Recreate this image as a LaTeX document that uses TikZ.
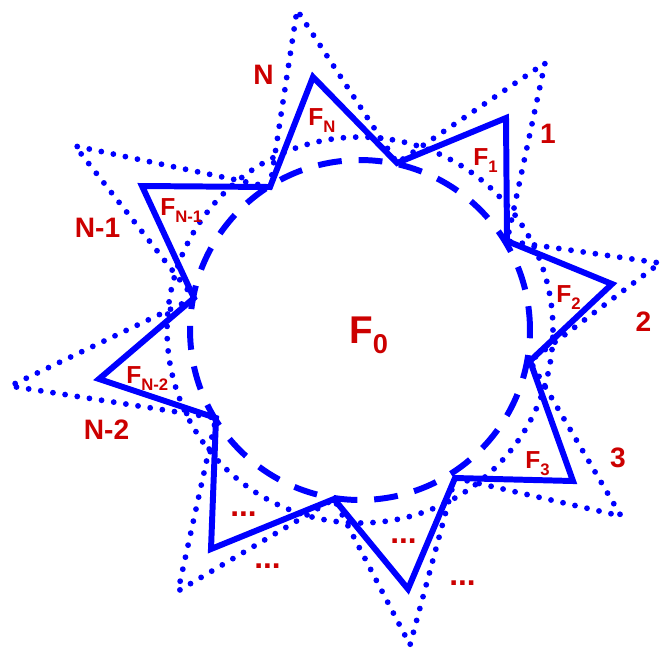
\documentclass[tikz,border=0pt]{standalone}
\usepackage{fontspec}
\setmainfont{Liberation Sans}
\usepackage{xcolor}
\definecolor{sblue}{HTML}{0000FF}
\definecolor{lred}{HTML}{CC0000}
\usepackage{tikz}
\usetikzlibrary{positioning}
\newcommand{\lsub}[2][4.5pt]{\raisebox{-#1}{\fontsize{9.5}{9.5}\selectfont #2}}
\tikzset{
  solid star/.style={sblue,line width=3.4pt},
  dotted star/.style={sblue,line width=3.3pt,line cap=round,dash pattern=on 0pt off 7pt},
  dashed ring/.style={sblue,line width=3.4pt,dash pattern=on 13.6pt off 9.6pt},
  spike lbl/.style={lred,inner sep=0,font=\bfseries\fontsize{16}{16}\selectfont},
  face lbl/.style={lred,inner sep=0,anchor=base west,font=\bfseries\fontsize{14}{14}\selectfont},
  more lbl/.style={lred,inner sep=0,anchor=base west,font=\bfseries\fontsize{18}{18}\selectfont}
}

\begin{document}
\begin{tikzpicture}[x=0.02cm, y=-0.02cm]
  \useasboundingbox (0,0) rectangle (665,654);

  % centre and base points on the ring
  \coordinate (c) at (360,330);
  \coordinate (b1) at (270,187);
  \coordinate (b2) at (397,163);
  \coordinate (b3) at (507,241);
  \coordinate (b4) at (530,361);
  \coordinate (b5) at (455,478);
  \coordinate (b6) at (334,499);
  \coordinate (b7) at (216,418);
  \coordinate (b8) at (194,298);

  % tips of the solid star
  \coordinate (s1) at (313,77);
  \coordinate (s2) at (506,118);
  \coordinate (s3) at (612,284);
  \coordinate (s4) at (573,481);
  \coordinate (s5) at (408,589);
  \coordinate (s6) at (211,549);
  \coordinate (s7) at (99,379);
  \coordinate (s8) at (142,186);

  % tips of the dotted star
  \coordinate (d1) at (297,10);
  \coordinate (d2) at (545,63);
  \coordinate (d3) at (660,263);
  \coordinate (d4) at (621,516);
  \coordinate (d5) at (410,645);
  \coordinate (d6) at (178,591);
  \coordinate (d7) at (10,386);
  \coordinate (d8) at (75,146);

  % dotted star and ring
  \draw[dotted star] (b1) -- (d1) -- (b2) -- (d2) -- (b3) -- (d3) -- (b4) -- (d4)
    -- (b5) -- (d5) -- (b6) -- (d6) -- (b7) -- (d7) -- (b8) -- (d8) -- cycle;
  \draw[dotted star] (c) circle[radius=3.86cm];

  % dashed ring
  \draw[dashed ring] (c) circle[radius=3.4cm];

  % solid star
  \draw[solid star] (b1) -- (s1) -- (b2) -- (s2) -- (b3) -- (s3) -- (b4) -- (s4)
    -- (b5) -- (s5) -- (b6) -- (s6) -- (b7) -- (s7) -- (b8) -- (s8) -- cycle;

  % spike numbers
  \node[spike lbl] (nN) at (263.5,75) {N};
  \node[spike lbl] (n1) at (548,134) {1};
  \node[spike lbl] (n2) at (643.5,322) {2};
  \node[spike lbl] (n3) at (618,458) {3};
  \node[spike lbl] (nN1) at (97.5,227.5) {N-1};
  \node[spike lbl] (nN2) at (106.5,430) {N-2};

  % faces
  \node[face lbl] (fN) at (308,125) {F\lsub{N}};
  \node[face lbl] (f1) at (473,165) {F\lsub{1}};
  \node[face lbl] (f2) at (556,302) {F\lsub{2}};
  \node[face lbl] (f3) at (525,468) {F\lsub{3}};
  \node[face lbl] (fN1) at (160,215) {F\lsub{N-1}};
  \node[face lbl] (fN2) at (126,383) {F\lsub{N-2}};
  \node[face lbl, font=\bfseries\fontsize{22}{22}\selectfont] (f0) at (349,343)
    {F\raisebox{-5.7pt}{\fontsize{15.5}{15.5}\selectfont 0}};

  % the rest
  \node[more lbl] (m1) at (230,516) {...};
  \node[more lbl] (m2) at (254,568) {...};
  \node[more lbl] (m3) at (390,543) {...};
  \node[more lbl] (m4) at (449,585) {...};

\end{tikzpicture}
\end{document}
